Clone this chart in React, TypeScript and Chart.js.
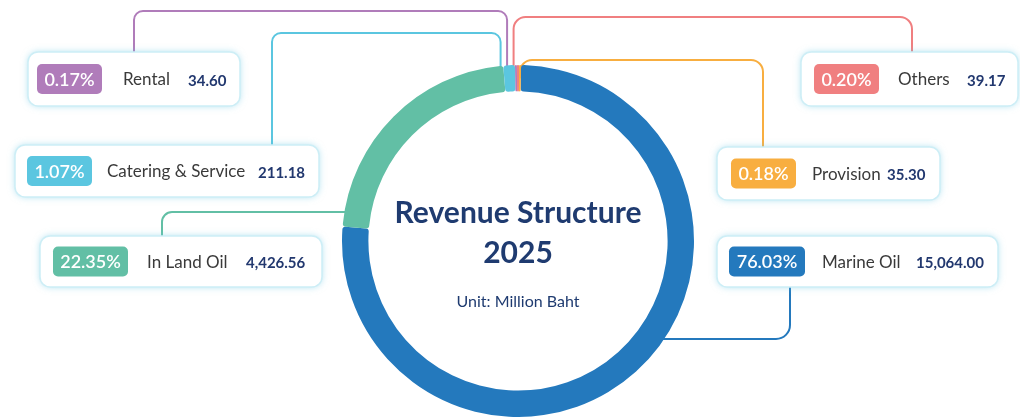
import React, { useEffect, useRef } from "react";
import { Chart, registerables } from "chart.js";
Chart.register(...registerables);

// ---- data ----
const categories = ["Marine Oil", "In Land Oil", "Catering & Service", "Rental", "Others", "Provision"];
const revenues = [15064.0, 4426.56, 211.18, 34.6, 39.17, 35.3];
const shareLabels = ["76.03%", "22.35%", "1.07%", "0.17%", "0.20%", "0.18%"];
const colors = ["#2479BD", "#62BFA5", "#5BC6E0", "#B07CBA", "#F07F80", "#F8AE40"];
const titleLines = ["Revenue Structure", "2025"];
const unitLabel = "Unit: Million Baht";

// ---- layout (label boxes and connector routes) ----
type Route = { kind: "top" | "side"; y: number; bendX: number; endY: number; r: number };
type Layout = { box: [number, number, number, number]; badge: [number, number]; labelX: number; valueX: number; route: Route };
const layouts: Layout[] = [
  { box: [717, 236, 281, 51], badge: [729, 76], labelX: 822, valueX: 916, route: { kind: "side", y: 339, bendX: 790, endY: 287, r: 14 } },
  { box: [40, 236, 282, 51], badge: [53, 75], labelX: 147, valueX: 246, route: { kind: "side", y: 212, bendX: 162, endY: 236, r: 10 } },
  { box: [15, 145, 304, 52], badge: [27, 65], labelX: 107, valueX: 258, route: { kind: "top", y: 33, bendX: 272, endY: 145, r: 9 } },
  { box: [28, 52, 212, 54], badge: [37, 65], labelX: 123, valueX: 188, route: { kind: "top", y: 11, bendX: 134, endY: 52, r: 9 } },
  { box: [801, 52, 217, 54], badge: [814, 65], labelX: 898, valueX: 967, route: { kind: "top", y: 17, bendX: 912, endY: 52, r: 12 } },
  { box: [717, 147, 223, 53], badge: [731, 65], labelX: 812, valueX: 887, route: { kind: "top", y: 60, bendX: 763, endY: 147, r: 12 } },
];

const FONT = "Lato, 'Noto Sans', sans-serif";
const NAVY = "#1F3B70";

function fmt(v: number) {
  return v.toLocaleString("en-US", { minimumFractionDigits: 2, maximumFractionDigits: 2 });
}

function roundedPolyline(ctx: CanvasRenderingContext2D, pts: number[][], r: number) {
  ctx.beginPath();
  ctx.moveTo(pts[0][0], pts[0][1]);
  for (let i = 1; i < pts.length - 1; i++) {
    ctx.arcTo(pts[i][0], pts[i][1], pts[i + 1][0], pts[i + 1][1], r);
  }
  const last = pts[pts.length - 1];
  ctx.lineTo(last[0], last[1]);
  ctx.stroke();
}

const connectorPlugin = {
  id: "connectors",
  beforeDatasetsDraw(chart: any) {
    const ctx: CanvasRenderingContext2D = chart.ctx;
    const arcs = chart.getDatasetMeta(0).data as any[];
    if (!arcs.length) return;
    const cx = arcs[0].x, cy = arcs[0].y;
    const R = arcs[0].outerRadius, ri = arcs[0].innerRadius;
    const mid = (R + ri) / 2;
    const lanes = layouts
      .map((l, i) => ({ i, l }))
      .filter((o) => o.l.route.kind === "top")
      .map((o) => {
        const a = (arcs[o.i].startAngle + arcs[o.i].endAngle) / 2;
        return { i: o.i, x: cx + R * Math.cos(a) };
      })
      .sort((a, b) => a.x - b.x);
    for (let k = lanes.length - 2; k >= 0; k--) lanes[k].x = Math.min(lanes[k].x, lanes[k + 1].x - 6.5);

    ctx.save();
    ctx.lineWidth = 2;
    ctx.lineJoin = "round";
    lanes.forEach((ln) => {
      const rt = layouts[ln.i].route;
      const sy = cy - Math.sqrt(Math.max(mid * mid - (ln.x - cx) * (ln.x - cx), 0));
      ctx.strokeStyle = colors[ln.i];
      roundedPolyline(ctx, [[ln.x, sy], [ln.x, rt.y], [rt.bendX, rt.y], [rt.bendX, rt.endY]], rt.r);
    });
    layouts.forEach((l, i) => {
      const rt = l.route;
      if (rt.kind !== "side") return;
      const dx = Math.sqrt(Math.max(mid * mid - (rt.y - cy) * (rt.y - cy), 0));
      const sx = rt.bendX > cx ? cx + dx : cx - dx;
      ctx.strokeStyle = colors[i];
      roundedPolyline(ctx, [[sx, rt.y], [rt.bendX, rt.y], [rt.bendX, rt.endY]], rt.r);
    });
    ctx.restore();
  },
};

const overlayPlugin = {
  id: "overlay",
  afterDatasetsDraw(chart: any) {
    const ctx: CanvasRenderingContext2D = chart.ctx;
    const arcs = chart.getDatasetMeta(0).data as any[];
    if (!arcs.length) return;
    const cx = arcs[0].x, cy = arcs[0].y;

    layouts.forEach((l, i) => {
      const [bx, by, bw, bh] = l.box;
      ctx.save();
      ctx.shadowColor = "rgba(110,200,228,0.55)";
      ctx.shadowBlur = 7;
      ctx.fillStyle = "#ffffff";
      ctx.beginPath();
      (ctx as any).roundRect(bx, by, bw, bh, 10);
      ctx.fill();
      ctx.restore();
      ctx.save();
      ctx.strokeStyle = "#cdeef6";
      ctx.lineWidth = 1.5;
      ctx.beginPath();
      (ctx as any).roundRect(bx, by, bw, bh, 10);
      ctx.stroke();
      ctx.restore();

      const midY = by + bh / 2;
      const [bdx, bdw] = l.badge;
      const bdh = 30;
      ctx.save();
      ctx.fillStyle = colors[i];
      ctx.beginPath();
      (ctx as any).roundRect(bdx, midY - bdh / 2, bdw, bdh, 5);
      ctx.fill();
      ctx.fillStyle = "#ffffff";
      ctx.font = `600 18px ${FONT}`;
      ctx.textAlign = "center";
      ctx.textBaseline = "middle";
      ctx.fillText(shareLabels[i], bdx + bdw / 2, midY + 1);

      ctx.textAlign = "left";
      ctx.fillStyle = "#3a3a3a";
      ctx.font = `400 17px ${FONT}`;
      ctx.fillText(categories[i], l.labelX, midY + 1);

      ctx.fillStyle = "#22386F";
      ctx.font = `700 15px ${FONT}`;
      ctx.fillText(fmt(revenues[i]), l.valueX, midY + 2);
      ctx.restore();
    });

    ctx.save();
    ctx.textAlign = "center";
    ctx.textBaseline = "middle";
    ctx.fillStyle = NAVY;
    ctx.font = `700 30px ${FONT}`;
    ctx.fillText(titleLines[0], cx, cy - 28);
    ctx.fillText(titleLines[1], cx, cy + 12);
    ctx.font = `400 16px ${FONT}`;
    ctx.fillText(unitLabel, cx, cy + 61);
    ctx.restore();
  },
};

export default function App() {
  const ref = useRef<HTMLCanvasElement>(null);
  useEffect(() => {
    const canvas = ref.current!;
    const chart = new Chart(canvas, {
      type: "doughnut",
      data: {
        labels: categories,
        datasets: [
          {
            data: revenues,
            backgroundColor: colors,
            borderWidth: 0,
            hoverOffset: 0,
            borderRadius: 3,
          },
        ],
      },
      options: {
        animation: false,
        responsive: false,
        maintainAspectRatio: false,
        devicePixelRatio: 1,
        cutout: "85%",
        rotation: 1,
        events: [],
        layout: { padding: { top: 65, bottom: 0, left: 16, right: 0 } },
        plugins: { legend: { display: false }, tooltip: { enabled: false } },
      } as any,
      plugins: [connectorPlugin, overlayPlugin],
    });
    return () => chart.destroy();
  }, []);
  return (
    <div style={{ position: "fixed", left: 0, top: 0, width: 1020, height: 417, background: "#ffffff" }}>
      <canvas ref={ref} width={1020} height={417} style={{ display: "block" }} />
    </div>
  );
}
